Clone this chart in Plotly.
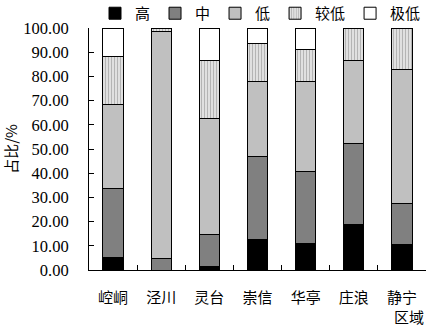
import plotly.graph_objects as go

# 区域与各等级占比(%)
regions = ["崆峒", "泾川", "灵台", "崇信", "华亭", "庄浪", "静宁"]
high = [5.3, 0.0, 1.6, 12.4, 10.8, 18.6, 10.4]
medium = [28.5, 4.8, 12.9, 34.3, 29.8, 33.6, 17.2]
low = [34.4, 93.6, 48.3, 31.4, 37.5, 34.2, 55.1]
lower = [19.9, 1.6, 23.6, 15.5, 12.9, 13.6, 17.3]
lowest = [11.9, 0.0, 13.6, 6.4, 9.0, 0.0, 0.0]

serif = "'Liberation Serif', 'Times New Roman', 'Noto Sans CJK SC', serif"
cjk = "'Noto Sans CJK SC', sans-serif"

fig = go.Figure()
line = dict(color="black", width=1)
fig.add_bar(name="高", x=regions, y=high, marker=dict(color="black", line=line))
fig.add_bar(name="中", x=regions, y=medium, marker=dict(color="#808080", line=line))
fig.add_bar(name="低", x=regions, y=low, marker=dict(color="#c0c0c0", line=line))
fig.add_bar(name="较低", x=regions, y=lower,
            marker=dict(color="#eeeeee", line=line,
                        pattern=dict(shape="|", fgcolor="#7a7a7a", bgcolor="#eeeeee",
                                     size=3, solidity=0.5)))
fig.add_bar(name="极低", x=regions, y=lowest, marker=dict(color="white", line=line))

fig.update_layout(
    width=443, height=328,
    margin=dict(l=89, r=17, t=28, b=58, autoexpand=False),
    barmode="stack",
    bargap=0.58,
    plot_bgcolor="white",
    paper_bgcolor="white",
    font=dict(family=serif, size=15, color="black"),
    showlegend=True,
    legend=dict(orientation="h", x=1.0, xanchor="right", y=1.06, yanchor="middle",
                font=dict(family=cjk, size=15, color="black"),
                traceorder="normal", itemwidth=30, tracegroupgap=0,
                bgcolor="rgba(0,0,0,0)"),
    xaxis=dict(
        type="category", tickson="boundaries", ticks="inside", ticklen=5,
        tickcolor="black", showline=True, linecolor="black", linewidth=1,
        showgrid=False, tickfont=dict(family=cjk, size=15, color="black"),
        ticklabelstandoff=14,
    ),
    yaxis=dict(
        range=[0, 100], dtick=10, tickformat=".2f", ticks="inside", ticklen=5,
        tickcolor="black", showline=True, linecolor="black", linewidth=1,
        showgrid=False, zeroline=False,
        tickfont=dict(family=serif, size=16.5, color="black"),
        ticklabelstandoff=16,
        title=dict(text="占比/%", font=dict(family=cjk, size=15, color="black"),
                   standoff=3),
    ),
)

fig.add_annotation(text="区域", xref="paper", yref="paper", x=1.0, y=-0.14,
                   xanchor="right", yanchor="top", showarrow=False,
                   font=dict(family=cjk, size=15, color="black"))

fig.write_html("out.html")
